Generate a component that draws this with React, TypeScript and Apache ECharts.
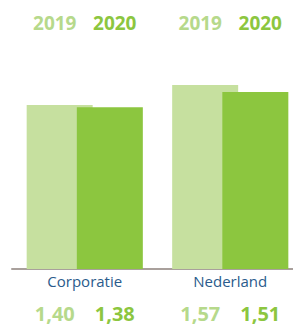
import React, { useEffect, useRef } from "react";
import * as echarts from "echarts";

const categories = ["Corporatie", "Nederland"];
const years = ["2019", "2020"];
const values2019 = [1.4, 1.57];
const values2020 = [1.38, 1.51];

const colorBar2019 = "#c6e09f";
const colorBar2020 = "#8cc63f";
const colorText2019 = "#b6d98b";
const colorText2020 = "#8cc63f";

const fmt = (v: number) => v.toFixed(2).replace(".", ",");

export default function App() {
  const ref = useRef<HTMLDivElement>(null);
  useEffect(() => {
    if (!ref.current) return;
    const chart = echarts.init(ref.current, null, { renderer: "svg" });
    chart.setOption({
      animation: false,
      grid: {
        left: 12,
        width: 291,
        top: 34.6,
        height: 234.4,
        containLabel: false,
        outerBoundsMode: "none",
      },
      xAxis: {
        type: "category",
        data: categories,
        axisLine: { show: true, lineStyle: { color: "#a9a09c", width: 2 } },
        axisTick: { show: false },
        axisLabel: {
          color: "#2a5b8c",
          fontSize: 15,
          fontFamily: "Open Sans",
          margin: 4,
        },
      },
      yAxis: {
        type: "value",
        min: 0,
        max: 2,
        show: false,
        splitLine: { show: false },
      },
      series: [
        {
          name: years[0],
          type: "bar",
          data: values2019,
          barWidth: 66,
          barGap: "-24%",
          itemStyle: { color: colorBar2019 },
        },
        {
          name: years[1],
          type: "bar",
          data: values2020,
          barWidth: 66,
          barGap: "-24%",
          itemStyle: { color: colorBar2020 },
        },
      ],
    });

    const elements: any[] = [];
    categories.forEach((c, i) => {
      const cx = chart.convertToPixel({ xAxisIndex: 0 }, c) as number;
      const cols = [colorText2019, colorText2020];
      const vals = [values2019[i], values2020[i]];
      [-30, 30].forEach((dx, k) => {
        elements.push({
          type: "text",
          x: cx + dx,
          y: 23,
          style: {
            text: years[k],
            fill: cols[k],
            fontSize: 19,
            lineHeight: 19,
            fontWeight: "bold",
            fontFamily: "Open Sans",
            align: "center",
            verticalAlign: "middle",
          },
        });
        elements.push({
          type: "text",
          x: cx + dx,
          y: 313.5,
          style: {
            text: fmt(vals[k]),
            fill: cols[k],
            fontSize: 20,
            lineHeight: 20,
            fontWeight: "bold",
            fontFamily: "Open Sans",
            align: "center",
            verticalAlign: "middle",
          },
        });
      });
    });
    chart.setOption({ graphic: { elements } });

    return () => chart.dispose();
  }, []);
  return (
    <div
      ref={ref}
      style={{ position: "absolute", left: 0, top: 0, width: 293, height: 326 }}
    />
  );
}
